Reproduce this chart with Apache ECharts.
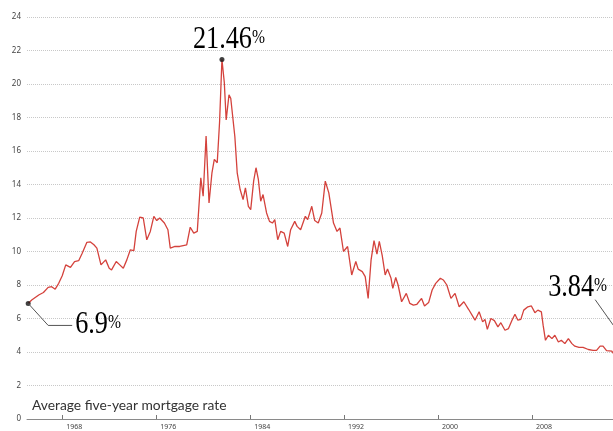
<!DOCTYPE html>
<html>
<head>
<meta charset="utf-8">
<script src="https://cdn.jsdelivr.net/npm/echarts@6/dist/echarts.min.js"></script>
<style>
  html, body { margin: 0; padding: 0; background: #fff; }
  #chart { width: 613px; height: 431px; }
</style>
</head>
<body>
<div id="chart"></div>
<script>
// five-year mortgage rate (decimal year, percent)
var years = [1965.1, 1965.4, 1966.0, 1966.4, 1966.8, 1967.1, 1967.4, 1967.7, 1968.0, 1968.3, 1968.7,
  1969.05, 1969.4, 1969.7, 1970.1, 1970.4, 1970.7, 1970.95, 1971.3, 1971.7, 1972.0, 1972.2, 1972.6,
  1972.9, 1973.2, 1973.5, 1973.8, 1974.1, 1974.3, 1974.6, 1974.9, 1975.2, 1975.5, 1975.8, 1976.05,
  1976.3, 1976.7, 1977.0, 1977.2, 1977.6, 1978.0, 1978.6, 1978.9, 1979.2, 1979.5, 1979.8, 1980.0,
  1980.25, 1980.5, 1980.75, 1980.95, 1981.2, 1981.4, 1981.6, 1981.8, 1981.96, 1982.2, 1982.35, 1982.5,
  1982.7, 1982.9, 1983.15, 1983.4, 1983.6, 1983.85, 1984.05, 1984.3, 1984.5, 1984.7, 1984.9, 1985.1,
  1985.4, 1985.65, 1985.9, 1986.1, 1986.35, 1986.6, 1986.9, 1987.2, 1987.45, 1987.8, 1988.0, 1988.3,
  1988.7, 1988.9, 1989.25, 1989.5, 1989.8, 1990.1, 1990.4, 1990.7, 1991.1, 1991.4, 1991.65, 1991.95,
  1992.3, 1992.65, 1993.0, 1993.2, 1993.55, 1993.8, 1994.05, 1994.3, 1994.55, 1994.8, 1995.0, 1995.25,
  1995.5, 1995.7, 1996.0, 1996.15, 1996.4, 1996.6, 1996.9, 1997.3, 1997.6, 1997.9, 1998.2, 1998.6,
  1998.85, 1999.2, 1999.5, 1999.8, 2000.2, 2000.45, 2000.75, 2001.1, 2001.45, 2001.8, 2002.2, 2002.6,
  2003.15, 2003.5, 2003.8, 2004.0, 2004.2, 2004.5, 2004.8, 2005.1, 2005.35, 2005.7, 2006.0, 2006.3,
  2006.55, 2006.8, 2007.05, 2007.3, 2007.65, 2007.95, 2008.25, 2008.5, 2008.8, 2008.95, 2009.15, 2009.4,
  2009.7, 2009.95, 2010.25, 2010.5, 2010.8, 2011.1, 2011.4, 2011.65, 2012.0, 2012.35, 2012.8, 2013.2,
  2013.5, 2013.8, 2014.05, 2014.35, 2014.8, 2015.0];
var rates = [6.9, 7.1, 7.4, 7.55, 7.86, 7.9, 7.75, 8.1, 8.55, 9.2, 9.05,
  9.4, 9.45, 9.9, 10.55, 10.57, 10.4, 10.2, 9.2, 9.5, 9.0, 8.9, 9.4,
  9.2, 9.0, 9.5, 10.1, 10.05, 11.2, 12.05, 12.0, 10.7, 11.2, 12.1, 11.85,
  12.0, 11.7, 11.3, 10.2, 10.3, 10.3, 10.4, 11.45, 11.1, 11.2, 14.4, 13.3,
  16.9, 12.9, 14.7, 15.5, 15.3, 17.75, 21.46, 20.1, 17.85, 19.35, 19.15, 19.1,
  16.85, 14.7, 13.7, 13.1, 13.8, 12.7, 12.5, 14.2, 15.0, 14.3, 13.0, 13.4,
  12.3, 11.8, 11.7, 11.9, 10.7, 11.2, 11.1, 10.3, 11.3, 11.8, 11.5, 11.3,
  12.1, 11.9, 12.7, 11.85, 11.7, 12.3, 14.2, 13.5, 11.7, 11.2, 11.4, 10.0,
  10.3, 8.6, 9.4, 8.95, 8.8, 8.5, 7.2, 9.5, 10.65, 9.85, 10.6, 9.75,
  8.6, 8.95, 8.4, 7.8, 8.45, 8.0, 7.0, 7.5, 6.9, 6.8, 6.85, 7.2,
  6.75, 6.95, 7.7, 8.1, 8.4, 8.3, 8.0, 7.2, 7.5, 6.7, 7.0, 6.55,
  5.9, 6.4, 5.8, 5.95, 5.35, 6.0, 5.87, 5.5, 5.75, 5.3, 5.4, 5.9,
  6.25, 5.9, 5.95, 6.5, 6.7, 6.75, 6.35, 6.5, 6.4, 5.6, 4.7, 5.0,
  4.8, 5.0, 4.6, 4.7, 4.5, 4.8, 4.5, 4.35, 4.28, 4.28, 4.15, 4.1,
  4.1, 4.35, 4.35, 4.08, 4.05, 3.84];
var xTicks = [1968, 1976, 1984, 1992, 2000, 2008];
var title = 'Average five-year mortgage rate';

var chart = echarts.init(document.getElementById('chart'));

var points = years.map(function (y, i) { return [y, rates[i]]; });
var peakIdx = rates.indexOf(Math.max.apply(null, rates));
var lastIdx = rates.length - 1;

var option = {
  animation: false,
  grid: { left: 27, top: 17, right: 0, bottom: 12 },
  xAxis: {
    type: 'value',
    min: 1965,
    max: 2014.9,
    axisLine: { lineStyle: { color: '#8a8a8a', width: 1 } },
    axisTick: { inside: true, length: 4, customValues: xTicks, lineStyle: { color: '#777' } },
    axisLabel: {
      customValues: xTicks, align: 'left', padding: [0, 0, 0, 4], margin: 4,
      fontSize: 7, color: '#444', fontFamily: 'Noto Sans',
      formatter: function (v) { return String(v); }
    },
    splitLine: { show: false }
  },
  yAxis: {
    type: 'value',
    min: 0,
    max: 24,
    interval: 2,
    axisLine: { show: false },
    axisTick: { show: false },
    axisLabel: { fontSize: 8, color: '#444', margin: 6, fontFamily: 'Noto Sans' },
    splitLine: { lineStyle: { color: '#c8c8c8', type: [1, 1], width: 1 } }
  },
  title: {
    text: title,
    left: 27,
    top: 394,
    textStyle: { fontSize: 13.8, fontWeight: 'normal', color: '#333', fontFamily: 'Lato' }
  },
  series: [{
    type: 'line',
    data: points,
    showSymbol: false,
    lineStyle: { color: '#d4423c', width: 1.3 },
    z: 3
  }, {
    type: 'scatter',
    data: [points[0], points[peakIdx]],
    symbolSize: 5,
    itemStyle: { color: '#111' },
    z: 4
  }]
};
chart.setOption(option);

// annotations placed relative to the data points
var serif = '"Liberation Serif", "DejaVu Serif", serif';
var rich = {
  n: { fontSize: 32, fontFamily: serif, color: '#222', lineHeight: 32 },
  p: { fontSize: 19, fontFamily: serif, color: '#777', lineHeight: 19, padding: [0, 0, 3, 0] }
};
function note(txt, x, y) {
  return {
    type: 'text', x: x, y: y, scaleX: 0.82, z: 10,
    style: { text: '{n|' + txt + '}{p|%}', rich: rich, align: 'left', verticalAlign: 'bottom' }
  };
}
var p0 = chart.convertToPixel({ gridIndex: 0 }, points[0]);
var pk = chart.convertToPixel({ gridIndex: 0 }, points[peakIdx]);
var pl = chart.convertToPixel({ gridIndex: 0 }, points[lastIdx]);
var lineStyle = { stroke: '#555', lineWidth: 1, fill: null };

chart.setOption({
  graphic: [
    note(String(rates[peakIdx]), pk[0] - 29, pk[1] - 4),
    note(String(rates[0]), p0[0] + 47, p0[1] + 37),
    note(String(rates[lastIdx]), pl[0] - 66, pl[1] - 51),
    { type: 'polyline', z: 9, shape: { points: [[p0[0], p0[1]], [p0[0] + 20, p0[1] + 22], [p0[0] + 44, p0[1] + 22]] }, style: lineStyle },
    { type: 'line', z: 9, shape: { x1: pl[0] - 19, y1: pl[1] - 55, x2: pl[0] + 20, y2: pl[1] }, style: lineStyle }
  ]
});
</script>
</body>
</html>
